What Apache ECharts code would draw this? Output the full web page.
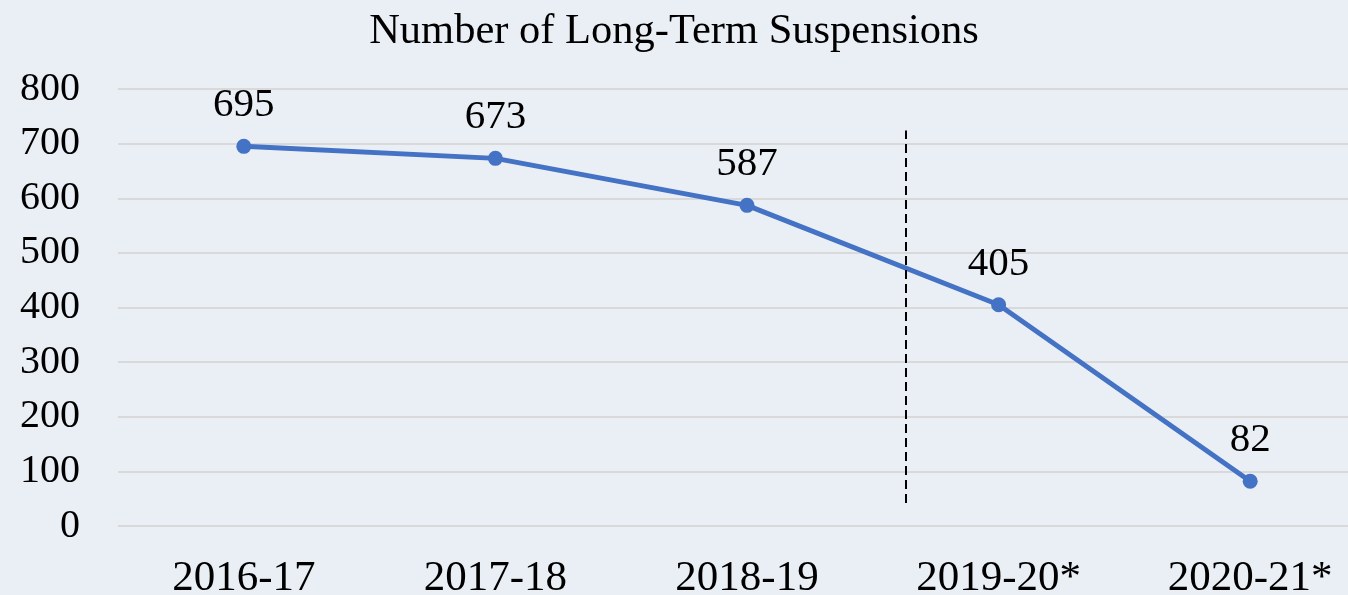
<!DOCTYPE html>
<html lang="en">
<head>
	<meta charset="UTF-8">
	<title>Long-Term Suspensions</title>
	<script src="https://cdn.jsdelivr.net/npm/echarts@6/dist/echarts.min.js"></script>
</head>
<body style="margin:0;background:#EAEEF5;">
	<div id="chart" style="width:1348px;height:595px;"></div>
<script type="text/javascript">
	// data
	const years = ['2016-17', '2017-18', '2018-19', '2019-20*', '2020-21*'];
	const suspensions = [695, 673, 587, 405, 82];
	// dashed divider: position on hidden 0..5 axis, and value range it spans
	const dividerX = 3.13;
	const dividerRange = [42, 724];

	const font = '"Liberation Serif", "Times New Roman", serif';
	let myChart = echarts.init(document.getElementById('chart'));

	let option = {
		backgroundColor: '#EAEEF5',
		title: {
			text: 'Number of Long-Term Suspensions',
			left: 'center',
			top: 5,
			textStyle: { fontFamily: font, fontSize: 42.5, fontWeight: 'normal', color: '#000' }
		},
		// plot area runs past the right edge of the picture
		grid: { left: 118, right: -28, top: 89, bottom: 69, outerBoundsMode: 'none', containLabel: false },
		xAxis: [
			{
				type: 'category',
				data: years,
				axisLine: { show: false },
				axisTick: { show: false },
				axisLabel: { fontFamily: font, fontSize: 43, color: '#000', margin: 31 }
			},
			{
				// hidden axis used only to place the dashed divider
				type: 'value',
				min: 0,
				max: 5,
				show: false
			}
		],
		yAxis: {
			type: 'value',
			min: 0,
			max: 800,
			interval: 100,
			axisLine: { show: false },
			axisTick: { show: false },
			axisLabel: { fontFamily: font, fontSize: 40, color: '#000', margin: 38 },
			splitLine: { lineStyle: { color: '#D9D9D9', width: 2 } }
		},
		series: [
			{
				type: 'line',
				data: suspensions,
				symbol: 'circle',
				symbolSize: 15,
				lineStyle: { color: '#4472C4', width: 5 },
				itemStyle: { color: '#4472C4' },
				label: {
					show: true,
					position: 'top',
					distance: 13,
					fontFamily: font,
					fontSize: 41,
					color: '#000'
				}
			},
			{
				type: 'line',
				xAxisIndex: 1,
				data: [],
				markLine: {
					symbol: 'none',
					silent: true,
					label: { show: false },
					lineStyle: { color: '#000', type: [9, 5], width: 2 },
					data: [[
						{ coord: [dividerX, dividerRange[0]] },
						{ coord: [dividerX, dividerRange[1]] }
					]]
				}
			}
		]
	};
	myChart.setOption(option);
</script>
</body>
</html>
